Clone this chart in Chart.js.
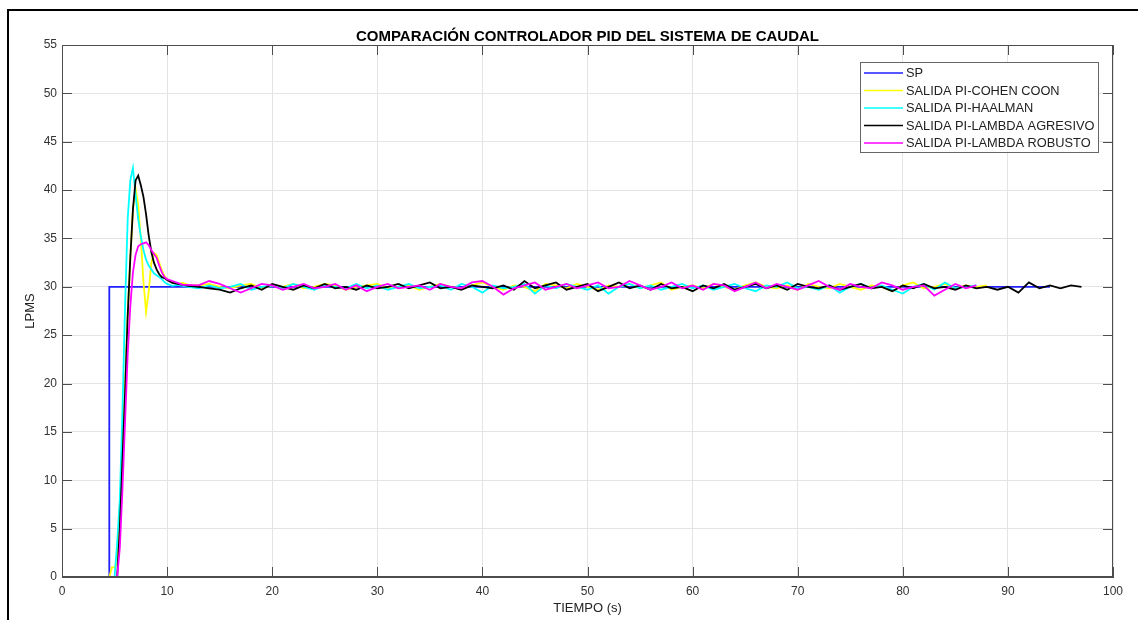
<!DOCTYPE html>
<html>
<head>
<meta charset="utf-8">
<title>Comparación controlador PID</title>
<script src="https://cdn.jsdelivr.net/npm/chart.js@4.4.0/dist/chart.umd.min.js"></script>
<style>
  html, body { margin: 0; padding: 0; background: #fff; }
  #wrap { width: 1144px; height: 620px; }
</style>
</head>
<body>
<div id="wrap"><canvas id="caudalChart" width="1144" height="620"></canvas></div>
<script>
// tiempo de muestreo (s): fino en el transitorio, 1 s en régimen
const tiempo = [
  0, 4, 4.5, 4.75, 5, 5.25, 5.5, 5.75, 6, 6.25,
  6.5, 6.75, 7, 7.25, 7.5, 7.75, 8, 8.25, 8.5, 8.75,
  9, 9.25, 9.5, 9.75, 10, 10.5, 11, 11.5, 12,
  13, 14, 15, 16, 17, 18, 19, 20, 21, 22,
  23, 24, 25, 26, 27, 28, 29, 30, 31, 32,
  33, 34, 35, 36, 37, 38, 39, 40, 41, 42,
  43, 44, 45, 46, 47, 48, 49, 50, 51, 52,
  53, 54, 55, 56, 57, 58, 59, 60, 61, 62,
  63, 64, 65, 66, 67, 68, 69, 70, 71, 72,
  73, 74, 75, 76, 77, 78, 79, 80, 81, 82,
  83, 84, 85, 86, 87, 88, 89, 90, 91, 92,
  93, 94, 95, 96, 97,
];

// setpoint (escalón a 30 LPM)
const spTiempo = [0, 4.5, 4.5, 94];
const spValor = [0, 0, 30, 30];

const cohenCoon = [
  0, 0, 0, 1, 1, 1.5, 6, 13, 20, 27,
  33, 38, 40.2, 38.5, 35, 30.5, 27.4, 29.5, 32.5, 33.5,
  33.3, 32.5, 31.7, 31.1, 30.8, 30.5, 30.3, 30.4, 30.2,
  30.15, 30.3, 30.0, 29.85, 30.15, 30.3, 29.85, 30.15, 30.0, 30.3,
  29.85, 30.0, 30.3, 30.15, 29.7, 30.0, 30.15, 30.3, 29.85, 30.0,
  30.15, 29.7, 30.0, 30.3, 30.0, 29.85, 30.15, 30.45, 30.0, 29.7,
  30.15, 30.0, 29.55, 30.3, 30.15, 29.85, 30.3, 30.0, 29.7, 30.15,
  30.0, 30.3, 29.85, 30.15, 30.45, 29.7, 30.0, 30.15, 29.85, 30.3,
  30.0, 29.7, 30.15, 30.45, 30.0, 29.85, 30.15, 29.7, 30.3, 30.0,
  29.85, 30.3, 30.0, 29.7, 30.15, 30.0, 29.55, 30.15, 30.45, 29.85,
  30.0, 30.3, 29.85, 30.15, 30.0, 30.15,
];

const haalman = [
  0, 0, 0, 0, 0, 3.5, 8, 17, 28, 37,
  41, 42.3, 39.5, 37, 35.2, 33.8, 32.8, 32.2, 31.8, 31.4,
  31.2, 31.0, 30.8, 30.5, 30.3, 30.1, 30.2, 30.1, 30.0,
  29.85, 30.15, 29.85, 30.0, 30.3, 29.7, 30.0, 30.15, 29.85, 30.3,
  30.0, 29.7, 30.15, 30.0, 29.85, 30.3, 29.85, 30.15, 29.7, 30.0,
  30.3, 29.85, 30.0, 30.15, 29.7, 30.3, 30.0, 29.4, 30.15, 29.85,
  30.0, 30.3, 29.3, 30.15, 29.85, 30.3, 30.0, 29.7, 30.15, 29.3,
  30.0, 30.3, 29.85, 30.15, 29.7, 30.0, 30.3, 29.85, 30.15, 29.7,
  30.0, 30.3, 29.85, 29.55, 30.15, 30.0, 30.45, 29.85, 30.0, 29.7,
  30.15, 29.4, 30.0, 30.3, 29.85, 30.15, 29.7, 29.3, 30.0, 30.3,
  29.7, 30.45, 29.85, 30.0, 30.15,
];

const lambdaAgresivo = [
  0, 0, 0, 0, 0, 0, 5, 12, 19, 27,
  33, 38, 41, 41.5, 40.5, 39.3, 37.5, 35.3, 33.6, 32.5,
  31.8, 31.3, 31.0, 30.9, 30.7, 30.4, 30.3, 30.2, 30.1,
  30.0, 29.85, 29.7, 29.4, 29.85, 30.15, 29.7, 30.3, 30.0, 29.7,
  30.15, 29.85, 30.3, 29.85, 30.0, 29.7, 30.15, 29.85, 30.0, 30.3,
  29.85, 30.15, 30.45, 29.85, 30.0, 29.7, 30.15, 30.0, 29.85, 30.15,
  29.7, 30.6, 29.85, 30.15, 30.45, 29.7, 30.0, 30.3, 29.55, 30.0,
  30.45, 29.85, 30.15, 29.7, 30.3, 29.85, 30.0, 29.55, 30.15, 29.85,
  30.3, 29.7, 30.0, 30.3, 29.85, 30.15, 29.7, 30.3, 30.0, 29.85,
  30.15, 29.7, 30.0, 30.3, 29.85, 30.0, 29.55, 30.15, 29.85, 30.3,
  29.85, 30.0, 29.7, 30.15, 29.85, 30.0, 29.7, 30.0, 29.4, 30.45,
  29.85, 30.15, 29.85, 30.15, 30.0,
];

const lambdaRobusto = [
  0, 0, 0, 0, 0, 0, 3, 9, 16, 23,
  28, 31.5, 33.3, 34.2, 34.4, 34.5, 34.6, 34.3, 33.8, 33.4,
  33.0, 32.2, 31.5, 31.0, 30.8, 30.6, 30.4, 30.2, 30.2,
  30.15, 30.6, 30.3, 29.85, 29.4, 29.85, 30.3, 30.15, 29.7, 30.0,
  30.3, 29.85, 30.0, 30.3, 29.7, 30.15, 29.55, 30.0, 30.3, 29.85,
  30.0, 30.15, 29.7, 30.3, 30.0, 29.85, 30.45, 30.6, 30.0, 29.2,
  29.85, 30.15, 30.45, 29.7, 30.0, 30.3, 29.85, 30.15, 30.45, 29.85,
  30.0, 30.6, 30.15, 29.7, 30.0, 30.45, 29.85, 30.15, 29.7, 30.3,
  30.15, 29.55, 30.0, 30.45, 29.85, 30.3, 30.0, 29.7, 30.15, 30.6,
  30.0, 29.7, 30.3, 30.0, 29.85, 30.45, 30.15, 29.7, 30.0, 30.15,
  29.1, 29.7, 30.3, 29.85, 30.15,
];

const xTicks = [0, 10, 20, 30, 40, 50, 60, 70, 80, 90, 100];
const yTicks = [0, 5, 10, 15, 20, 25, 30, 35, 40, 45, 50, 55];

const FONT = "'Liberation Sans', Arial, Helvetica, sans-serif";

function puntos(valores, t) {
  return valores.map((v, i) => ({ x: t[i], y: v }));
}

// marco estilo matlab: caja, marcas internas, leyenda, titulo
const marcoPlugin = {
  id: "marco",
  afterDraw(chart) {
    const c = chart.ctx;
    const a = chart.chartArea;
    const sx = chart.scales.x;
    const sy = chart.scales.y;
    c.save();

    // caja de ejes
    c.strokeStyle = "#4d4d4d";
    c.lineWidth = 1;
    c.strokeRect(a.left + 0.5, a.top + 0.5, a.right - a.left - 1, a.bottom - a.top - 1);

    // marcas hacia dentro
    const L = 10;
    c.beginPath();
    xTicks.forEach((v) => {
      const px = Math.round(sx.getPixelForValue(v)) + 0.5;
      c.moveTo(px, a.bottom);
      c.lineTo(px, a.bottom - L);
      c.moveTo(px, a.top);
      c.lineTo(px, a.top + L);
    });
    yTicks.forEach((v) => {
      const py = Math.round(sy.getPixelForValue(v)) + 0.5;
      c.moveTo(a.left, py);
      c.lineTo(a.left + L, py);
      c.moveTo(a.right, py);
      c.lineTo(a.right - L, py);
    });
    c.stroke();

    // titulo
    c.fillStyle = "#000";
    c.font = "bold 15px " + FONT;
    c.textAlign = "center";
    c.textBaseline = "middle";
    c.fillText("COMPARACIÓN CONTROLADOR PID DEL SISTEMA DE CAUDAL", (a.left + a.right) / 2, 37);

    // leyenda
    const bx = 860, by = 62, bw = 238, bh = 90;
    c.fillStyle = "#fff";
    c.fillRect(bx, by, bw, bh);
    c.strokeStyle = "#666";
    c.lineWidth = 1;
    c.strokeRect(bx + 0.5, by + 0.5, bw, bh);
    c.font = "12.8px " + FONT;
    c.textAlign = "left";
    chart.data.datasets.forEach((ds, i) => {
      const yy = by + 11 + i * 17.5;
      c.strokeStyle = ds.borderColor;
      c.lineWidth = 1.5;
      c.beginPath();
      c.moveTo(bx + 4, yy);
      c.lineTo(bx + 43, yy);
      c.stroke();
      c.fillStyle = "#222";
      c.fillText(ds.label, bx + 46, yy + 0.5);
    });

    // borde negro exterior
    c.strokeStyle = "#000";
    c.lineWidth = 2;
    c.beginPath();
    c.moveTo(8, 620);
    c.lineTo(8, 10);
    c.lineTo(1138, 10);
    c.stroke();
    c.restore();
  },
};

const ctx = document.getElementById("caudalChart").getContext("2d");
const caudalChart = new Chart(ctx, {
  type: "line",
  data: {
    datasets: [
      {
        label: "SP",
        data: puntos(spValor, spTiempo),
        borderColor: "#1f1fff",
        order: 5,
      },
      {
        label: "SALIDA PI-COHEN COON",
        data: puntos(cohenCoon, tiempo),
        borderColor: "#ffff00",
        order: 4,
      },
      {
        label: "SALIDA PI-HAALMAN",
        data: puntos(haalman, tiempo),
        borderColor: "#00ffff",
        order: 3,
      },
      {
        label: "SALIDA PI-LAMBDA AGRESIVO",
        data: puntos(lambdaAgresivo, tiempo),
        borderColor: "#000000",
        order: 2,
      },
      {
        label: "SALIDA PI-LAMBDA ROBUSTO",
        data: puntos(lambdaRobusto, tiempo),
        borderColor: "#ff00ff",
        order: 1,
      },
    ],
  },
  options: {
    responsive: false,
    animation: false,
    layout: { padding: { top: 45, right: 31, left: 0, bottom: 0 } },
    elements: {
      point: { radius: 0 },
      line: { borderWidth: 1.8, tension: 0, fill: false },
    },
    plugins: {
      legend: { display: false },
      title: { display: false },
      tooltip: { enabled: false },
    },
    scales: {
      x: {
        type: "linear",
        min: 0,
        max: 100,
        afterFit: (s) => { s.height = 43; },
        afterBuildTicks: (s) => { s.ticks = xTicks.map((v) => ({ value: v })); },
        ticks: { color: "#333", font: { size: 12, family: FONT }, padding: 7, maxRotation: 0 },
        grid: { color: "#e4e4e4", drawTicks: false },
        border: { color: "#4d4d4d" },
        title: {
          display: true,
          text: "TIEMPO (s)",
          color: "#222",
          font: { size: 13, family: FONT },
          padding: { top: 0, bottom: 4 },
        },
      },
      y: {
        min: 0,
        max: 55,
        afterFit: (s) => { s.width = 62; },
        afterBuildTicks: (s) => { s.ticks = yTicks.map((v) => ({ value: v })); },
        ticks: { color: "#333", font: { size: 12, family: FONT }, padding: 5 },
        grid: { color: "#e4e4e4", drawTicks: false },
        border: { color: "#4d4d4d" },
        title: {
          display: true,
          text: "LPMS",
          color: "#222",
          font: { size: 13, family: FONT },
          padding: { top: 23, bottom: 0 },
        },
      },
    },
  },
  plugins: [marcoPlugin],
});
</script>
</body>
</html>
